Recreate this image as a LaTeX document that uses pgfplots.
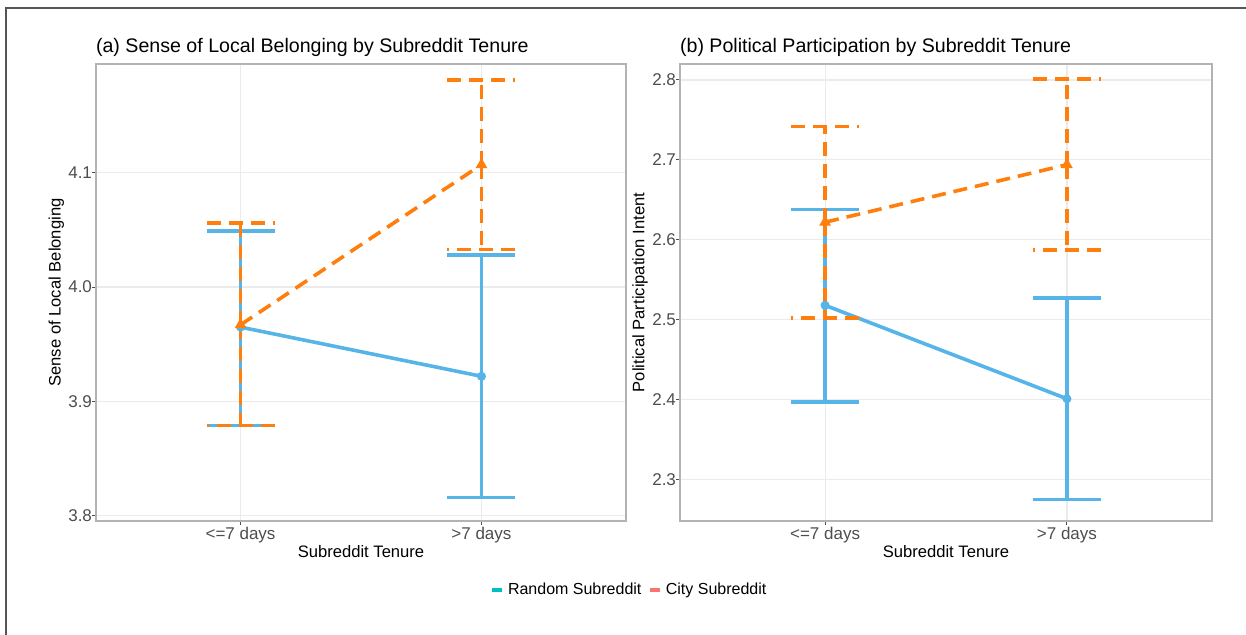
\documentclass[border=0pt]{standalone}
\usepackage{pgfplots}
\pgfplotsset{compat=1.18}
\usepackage{pgfplotstable}
\usepackage{fontspec}
\setmainfont{Liberation Sans}

\definecolor{randblue}{HTML}{56B4E9}
\definecolor{cityorange}{HTML}{FF7F0E}
\definecolor{keyteal}{HTML}{00BFC4}
\definecolor{keysalmon}{HTML}{F8766D}
\definecolor{gridgray}{HTML}{EBEBEB}
\definecolor{boxgray}{HTML}{B3B3B3}
\definecolor{tickgray}{HTML}{4D4D4D}
\definecolor{outergray}{HTML}{555555}

% (a) sense of local belonging: mean, lower, upper
\pgfplotstableread{
x y lo hi
1 3.965 3.879 4.049
2 3.922 3.816 4.028
}\belongRandom
\pgfplotstableread{
x y lo hi
1 3.967 3.879 4.056
2 4.107 4.033 4.181
}\belongCity
% (b) political participation intent
\pgfplotstableread{
x y lo hi
1 2.518 2.397 2.638
2 2.401 2.275 2.527
}\polRandom
\pgfplotstableread{
x y lo hi
1 2.622 2.502 2.742
2 2.694 2.587 2.801
}\polCity

\pgfplotsset{
  tenure/.style={
    scale only axis,
    anchor=south west,
    width=265pt, height=228.5pt,
    xmin=0.4, xmax=2.6,
    xtick={1,2}, xticklabels={{<=7 days},{>7 days}},
    tick pos=left, tick align=outside,
    major tick length=2pt,
    every tick/.style={tickgray, line width=0.5pt},
    grid=major,
    major grid style={gridgray, line width=0.6pt},
    axis line style={boxgray, line width=0.6pt},
    ticklabel style={font=\fontsize{8.5}{10}\selectfont, text=tickgray},
    /pgf/number format/assume math mode=true,
    yticklabel style={/pgf/number format/.cd, fixed, fixed zerofill, precision=1,
      /tikz/.cd, xshift=3.5pt},
    xticklabel style={yshift=2.5pt},
    xlabel={Subreddit Tenure},
    label style={font=\fontsize{8.3}{10}\selectfont},
    xlabel style={at={(axis description cs:0.5,-0.066)}, anchor=center},
    ylabel style={at={(axis description cs:-0.075,0.5)}, anchor=center},
    title style={at={(axis description cs:0,1)}, anchor=base west, yshift=0pt, xshift=-3.5pt,
      font=\fontsize{9.8}{11}\selectfont},
  },
  tmean/.style={
    forget plot, line width=1.8pt,
    error bars/y dir=both, error bars/y explicit,
  },
  rand/.style={tmean, randblue, solid, mark=*, mark size=1.3pt,
    error bars/error bar style={line width=1.8pt, solid, randblue},
    error bars/error mark options={rotate=90, mark size=17pt, line width=1.8pt, solid, randblue},
  },
  city/.style={tmean, cityorange, dash pattern=on 7pt off 4pt,
    mark=triangle*, mark size=1.6pt, mark options={solid},
    error bars/error bar style={line width=1.8pt, dash pattern=on 7pt off 4pt, cityorange},
    error bars/error mark options={rotate=90, mark size=17pt, line width=1.8pt,
      dash pattern=on 7pt off 4pt, cityorange},
  },
}

\begin{document}
\begin{tikzpicture}
\path[use as bounding box] (0,0) rectangle (623pt,317pt);
\draw[outergray, line width=1pt] (3pt,-10pt) -- (3pt,313pt) -- (640pt,313pt);

\begin{axis}[tenure, at={(48pt,56.5pt)},
  title={(a) Sense of Local Belonging by Subreddit Tenure},
  ylabel={Sense of Local Belonging},
  ymin=3.7955, ymax=4.195, ytick={3.8,3.9,4.0,4.1},
  legend columns=2,
  legend style={at={(axis description cs:1.0075,-0.151)}, anchor=center, draw=none,
    font=\fontsize{8}{10}\selectfont, inner sep=1pt,
    /tikz/every even column/.append style={column sep=1pt}},
  legend image code/.code={\draw[line width=2.2pt] (0pt,0pt) -- (5pt,0pt);},
]
\addlegendimage{keyteal}\addlegendentry{Random Subreddit}
\addlegendimage{keysalmon}\addlegendentry{City Subreddit}
\addplot[rand] table[x=x, y=y,
  y error plus expr=\thisrow{hi}-\thisrow{y},
  y error minus expr=\thisrow{y}-\thisrow{lo}] {\belongRandom};
\addplot[city] table[x=x, y=y,
  y error plus expr=\thisrow{hi}-\thisrow{y},
  y error minus expr=\thisrow{y}-\thisrow{lo}] {\belongCity};
\end{axis}

\begin{axis}[tenure, at={(340pt,56.5pt)}, width=266pt,
  title={(b) Political Participation by Subreddit Tenure},
  ylabel={Political Participation Intent},
  ymin=2.248, ymax=2.82, ytick={2.3,2.4,2.5,2.6,2.7,2.8},
]
\addplot[rand] table[x=x, y=y,
  y error plus expr=\thisrow{hi}-\thisrow{y},
  y error minus expr=\thisrow{y}-\thisrow{lo}] {\polRandom};
\addplot[city] table[x=x, y=y,
  y error plus expr=\thisrow{hi}-\thisrow{y},
  y error minus expr=\thisrow{y}-\thisrow{lo}] {\polCity};
\end{axis}
\end{tikzpicture}
\end{document}
